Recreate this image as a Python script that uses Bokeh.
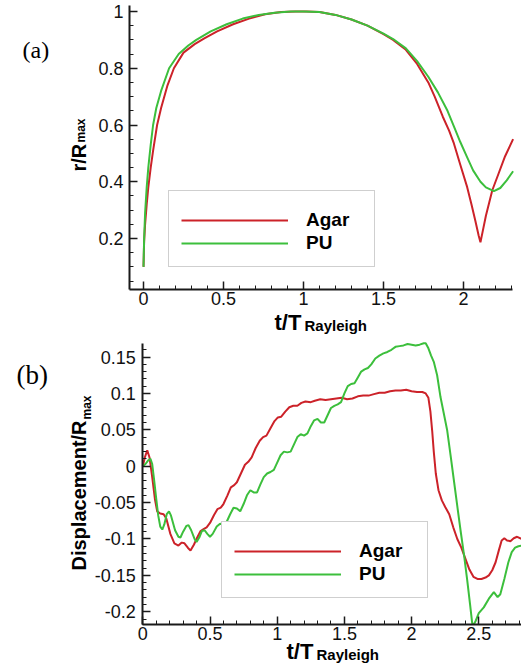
from bokeh.plotting import figure
from bokeh.models import Range1d, FixedTicker, Label, Legend, LegendItem
from bokeh.layouts import column
from bokeh.embed import file_html
from bokeh.resources import INLINE
import math

# ---------------- data: panel (a) r/Rmax vs t/T ----------------
a_t_agar = [0.0, 0.004, 0.01, 0.02, 0.03, 0.045, 0.06, 0.085, 0.11, 0.15, 0.19, 0.25, 0.32, 0.38,
            0.46, 0.56, 0.66, 0.76, 0.86, 0.95, 1.02, 1.1, 1.2, 1.3, 1.4, 1.5, 1.56, 1.64, 1.71,
            1.78, 1.82, 1.87, 1.91, 1.94, 1.98, 2.023, 2.05, 2.075, 2.095, 2.106, 2.12, 2.14,
            2.16, 2.18, 2.22, 2.26, 2.31]
a_r_agar = [0.10, 0.19, 0.25, 0.32, 0.38, 0.45, 0.51, 0.60, 0.66, 0.74, 0.80, 0.855, 0.885, 0.905,
            0.93, 0.955, 0.975, 0.99, 0.998, 1.0, 1.0, 0.998, 0.988, 0.972, 0.95, 0.92, 0.90, 0.865,
            0.815, 0.75, 0.70, 0.63, 0.58, 0.535, 0.46, 0.381, 0.32, 0.26, 0.21, 0.187, 0.225, 0.28,
            0.325, 0.37, 0.43, 0.49, 0.55]
a_t_pu = [0.0, 0.004, 0.01, 0.02, 0.03, 0.045, 0.06, 0.08, 0.11, 0.16, 0.22, 0.28, 0.33, 0.42, 0.52,
          0.62, 0.72, 0.82, 0.92, 1.0, 1.1, 1.2, 1.3, 1.4, 1.5, 1.56, 1.64, 1.71, 1.78, 1.84, 1.9,
          1.94, 1.98, 2.023, 2.06, 2.106, 2.14, 2.19, 2.23, 2.27, 2.31]
a_r_pu = [0.10, 0.20, 0.29, 0.38, 0.45, 0.53, 0.60, 0.66, 0.72, 0.80, 0.85, 0.88, 0.90, 0.93, 0.955,
          0.975, 0.988, 0.996, 1.0, 1.0, 0.998, 0.988, 0.972, 0.95, 0.922, 0.903, 0.87, 0.825, 0.77,
          0.715, 0.65, 0.595, 0.54, 0.486, 0.44, 0.40, 0.38, 0.367, 0.378, 0.405, 0.437]

# ---------------- data: panel (b) displacement vs t/T ----------------
b_t_agar = [0.0, 0.015, 0.033, 0.05, 0.07, 0.09, 0.107, 0.13, 0.155, 0.175, 0.205, 0.235, 0.265,
            0.29, 0.31, 0.335, 0.355, 0.38, 0.405, 0.43, 0.455, 0.475, 0.5, 0.53, 0.555, 0.58, 0.6,
            0.63, 0.655, 0.68, 0.7, 0.73, 0.76, 0.785, 0.81, 0.84, 0.87, 0.895, 0.92, 0.95, 0.98,
            1.005, 1.03, 1.06, 1.09, 1.12, 1.15, 1.18, 1.21, 1.25, 1.28, 1.32, 1.36, 1.4, 1.44, 1.48,
            1.52, 1.56, 1.6, 1.64, 1.68, 1.72, 1.76, 1.8, 1.84, 1.88, 1.92, 1.96, 2.0, 2.04, 2.08,
            2.105, 2.125, 2.14, 2.153, 2.165, 2.18, 2.2, 2.225, 2.25, 2.28, 2.31, 2.34, 2.37, 2.4,
            2.43, 2.46, 2.49, 2.52, 2.55, 2.575, 2.6, 2.625, 2.65, 2.67, 2.69, 2.71, 2.735, 2.76,
            2.785, 2.82]
b_d_agar = [0.0, 0.012, 0.022, 0.012, -0.015, -0.045, -0.062, -0.065, -0.066, -0.072, -0.093, -0.106,
            -0.109, -0.105, -0.106, -0.112, -0.116, -0.108, -0.098, -0.089, -0.086, -0.084, -0.078,
            -0.067, -0.059, -0.057, -0.052, -0.04, -0.029, -0.026, -0.022, -0.01, 0.002, 0.006, 0.012,
            0.025, 0.035, 0.04, 0.042, 0.052, 0.062, 0.067, 0.068, 0.075, 0.081, 0.083, 0.083, 0.087,
            0.089, 0.088, 0.09, 0.092, 0.091, 0.092, 0.093, 0.094, 0.092, 0.093, 0.096, 0.097, 0.097,
            0.099, 0.101, 0.101, 0.103, 0.104, 0.104, 0.105, 0.103, 0.102, 0.102, 0.1, 0.094, 0.075,
            0.049, 0.02, -0.01, -0.033, -0.047, -0.056, -0.066, -0.084, -0.1, -0.112, -0.127, -0.142,
            -0.152, -0.155, -0.155, -0.153, -0.15, -0.143, -0.132, -0.115, -0.102, -0.099, -0.102,
            -0.103, -0.099, -0.097, -0.1]
b_t_pu = [0.0, 0.02, 0.04, 0.057, 0.07, 0.085, 0.1, 0.115, 0.13, 0.145, 0.16, 0.178, 0.195, 0.21,
          0.24, 0.265, 0.28, 0.3, 0.325, 0.34, 0.36, 0.385, 0.4, 0.42, 0.44, 0.46, 0.48, 0.5, 0.52,
          0.55, 0.575, 0.6, 0.625, 0.65, 0.675, 0.7, 0.725, 0.75, 0.775, 0.8, 0.825, 0.85, 0.875,
          0.9, 0.925, 0.95, 0.975, 1.0, 1.025, 1.05, 1.075, 1.1, 1.125, 1.15, 1.175, 1.2, 1.225,
          1.25, 1.275, 1.3, 1.325, 1.35, 1.375, 1.4, 1.425, 1.45, 1.475, 1.5, 1.525, 1.55, 1.575,
          1.6, 1.625, 1.65, 1.675, 1.7, 1.73, 1.76, 1.79, 1.82, 1.85, 1.88, 1.91, 1.94, 1.97, 2.0,
          2.03, 2.06, 2.09, 2.105, 2.125, 2.145, 2.166, 2.19, 2.215, 2.24, 2.265, 2.29, 2.315, 2.34,
          2.364, 2.39, 2.414, 2.435, 2.451, 2.465, 2.478, 2.5, 2.537, 2.575, 2.612, 2.64, 2.66,
          2.69, 2.72, 2.745, 2.77, 2.795, 2.82]
b_d_pu = [0.0, 0.003, 0.008, 0.01, 0.003, -0.02, -0.045, -0.068, -0.083, -0.087, -0.08, -0.066,
          -0.062, -0.068, -0.088, -0.097, -0.098, -0.09, -0.082, -0.081, -0.088, -0.1, -0.104,
          -0.098, -0.089, -0.088, -0.093, -0.097, -0.093, -0.083, -0.079, -0.081, -0.076, -0.066,
          -0.057, -0.058, -0.062, -0.052, -0.04, -0.033, -0.036, -0.036, -0.025, -0.015, -0.01,
          -0.008, -0.005, 0.005, 0.015, 0.02, 0.019, 0.02, 0.03, 0.04, 0.044, 0.042, 0.045, 0.055,
          0.063, 0.065, 0.06, 0.06, 0.07, 0.08, 0.083, 0.085, 0.088, 0.1, 0.11, 0.113, 0.114, 0.122,
          0.13, 0.133, 0.135, 0.14, 0.148, 0.152, 0.155, 0.157, 0.16, 0.164, 0.165, 0.166, 0.168,
          0.167, 0.166, 0.167, 0.169, 0.169, 0.162, 0.152, 0.143, 0.125, 0.095, 0.072, 0.049, 0.015,
          -0.02, -0.055, -0.088, -0.122, -0.157, -0.19, -0.216, -0.217, -0.212, -0.202, -0.194,
          -0.182, -0.173, -0.18, -0.176, -0.155, -0.132, -0.118, -0.112, -0.11, -0.109]

series_names = ["Agar", "PU"]

a_xticks = [0, 0.5, 1, 1.5, 2]
a_xlabels = ["0", "0.5", "1", "1.5", "2"]
a_yticks = [0.2, 0.4, 0.6, 0.8, 1]
a_ylabels = ["0.2", "0.4", "0.6", "0.8", "1"]
b_xticks = [0, 0.5, 1, 1.5, 2, 2.5]
b_xlabels = ["0", "0.5", "1", "1.5", "2", "2.5"]
b_yticks = [-0.2, -0.15, -0.1, -0.05, 0, 0.05, 0.1, 0.15]
b_ylabels = ["-0.2", "-0.15", "-0.1", "-0.05", "0", "0.05", "0.1", "0.15"]

RED = "#cc2229"
GREEN = "#3cbf3c"
AXC = "#1a1a1a"
FONT = "Liberation Sans"

# ---------------- geometry: each figure's frame fills its canvas ----------------
W = 521
SPLIT = 335                 # page y where panel (b)'s canvas starts
# panel (a): 160 px per x unit (t=0 at x 143), 283.75 px per y unit (r=1 at y 11)
A_H = SPLIT
A_XS, A_YS = 160.0, 283.75
A_X_ZERO, A_Y_ONE = 143.0, 11.0
A_XR = (-A_X_ZERO / A_XS, (W - A_X_ZERO) / A_XS)
A_YR = (1.0 - (A_H - A_Y_ONE) / A_YS, 1.0 + A_Y_ONE / A_YS)
A_XB = (-0.0875, 2.306)     # x-axis extent
A_YB = (0.0203, 1.021)      # y-axis extent

# panel (b): 134.4 px per x unit (t=0 at x 142.3), 727.7 px per y unit (0 at y 465.7)
B_H = 663 - SPLIT
B_XS, B_YS = 134.4, 727.7
B_X_ZERO, B_Y_ZERO = 142.3, 465.7
B_XR = (-B_X_ZERO / B_XS, (W - B_X_ZERO) / B_XS)
B_YR = ((B_Y_ZERO - 663) / B_YS, (B_Y_ZERO - SPLIT) / B_YS)
B_XB = (0.0, B_XR[1])
B_YB = (-0.2173, 0.1683)


def a_px(x):
    return (x - A_X_ZERO) / A_XS


def a_py(y):
    return 1.0 - (y - A_Y_ONE) / A_YS


def b_px(x):
    return (x - B_X_ZERO) / B_XS


def b_py(y):
    return (B_Y_ZERO - y) / B_YS


def style(p, xt, xl, xminor, yt, yl, yminor, xb, yb):
    p.xaxis.ticker = FixedTicker(ticks=xt, minor_ticks=xminor)
    p.yaxis.ticker = FixedTicker(ticks=yt, minor_ticks=yminor)
    p.xaxis.major_label_overrides = {k: v for k, v in zip(xt, xl)}
    p.yaxis.major_label_overrides = {k: v for k, v in zip(yt, yl)}
    p.xaxis.fixed_location = yb[0]
    p.yaxis.fixed_location = xb[0]
    p.xaxis.bounds = xb
    p.yaxis.bounds = yb
    for ax in (p.xaxis, p.yaxis):
        ax.axis_line_color = AXC
        ax.axis_line_width = 2
        ax.major_tick_line_color = AXC
        ax.major_tick_line_width = 1.5
        ax.minor_tick_line_color = AXC
        ax.minor_tick_line_width = 1
        ax.major_tick_in = 8
        ax.major_tick_out = 0
        ax.minor_tick_in = 4
        ax.minor_tick_out = 0
        ax.major_label_text_font = FONT
        ax.major_label_text_font_size = "18px"
        ax.major_label_text_color = "#111111"
    p.yaxis.major_label_standoff = 6
    p.xaxis.major_label_standoff = 3
    p.grid.visible = False
    p.outline_line_color = None
    p.background_fill_color = "white"
    p.border_fill_color = "white"


def legend_for(p, r1, r2, loc):
    leg = Legend(items=[LegendItem(label=series_names[0], renderers=[r1]),
                        LegendItem(label=series_names[1], renderers=[r2])],
                 location=loc, margin=0, padding=12, spacing=1,
                 glyph_width=107, glyph_height=20, label_height=22,
                 label_standoff=18, label_width=56,
                 title=" ", title_text_font_size="1px", title_standoff=5,
                 label_text_font=FONT, label_text_font_style="bold",
                 label_text_font_size="19px", label_text_color="black",
                 border_line_color="#a0a0a0", border_line_width=1.5,
                 background_fill_color="white", background_fill_alpha=1.0)
    p.add_layout(leg, "center")


def lab(p, x, y, text, size, bold=True, font=FONT, angle=0.0):
    p.add_layout(Label(x=x, y=y, text=text, text_font=font, text_font_size=size,
                       text_font_style="bold" if bold else "normal", text_color="black",
                       text_baseline="alphabetic", text_align="left", angle=angle))


def make_fig(w, h, xr, yr):
    return figure(width=w, height=h, output_backend="svg", toolbar_location=None,
                  x_range=Range1d(*xr), y_range=Range1d(*yr),
                  min_border_left=0, min_border_right=0, min_border_top=0, min_border_bottom=0)


# ---------------- panel (a) ----------------
pa = make_fig(W, A_H, A_XR, A_YR)
style(pa, a_xticks, a_xlabels, [round(0.1 * i, 2) for i in range(0, 24)],
      a_yticks, a_ylabels, [round(0.05 * i, 2) for i in range(1, 21)], A_XB, A_YB)
ra1 = pa.line(a_t_agar, a_r_agar, line_color=RED, line_width=2)
ra2 = pa.line(a_t_pu, a_r_pu, line_color=GREEN, line_width=2)
legend_for(pa, ra1, ra2, (168, A_H - 267))
lab(pa, a_px(22), a_py(49), "(a)", "24px", bold=False, font="Liberation Serif")
lab(pa, a_px(78), a_py(171), "r/R", "20px", angle=math.pi / 2)
lab(pa, a_px(80), a_py(142), "max", "12px", angle=math.pi / 2)
lab(pa, a_px(274), a_py(322), "t/T", "22px")
lab(pa, a_px(304), a_py(325), "Rayleigh", "15px")

# ---------------- panel (b) ----------------
pb = make_fig(W, B_H, B_XR, B_YR)
style(pb, b_xticks, b_xlabels, [round(0.1 * i, 2) for i in range(0, 29)],
      b_yticks, b_ylabels, [round(0.01 * i, 2) for i in range(-21, 17)], B_XB, B_YB)
pb.yaxis.major_label_standoff = 7
rb1 = pb.line(b_t_agar, b_d_agar, line_color=RED, line_width=2)
rb2 = pb.line(b_t_pu, b_d_pu, line_color=GREEN, line_width=2)
legend_for(pb, rb1, rb2, (221, 663 - 598))
lab(pb, b_px(16), b_py(374), "(b)", "27px", bold=False, font="Liberation Serif")
lab(pb, b_px(78), b_py(570), "Displacement/R", "20px", angle=math.pi / 2)
lab(pb, b_px(86), b_py(419), "max", "12px", angle=math.pi / 2)
lab(pb, b_px(286), b_py(651), "t/T", "22px")
lab(pb, b_px(316), b_py(654), "Rayleigh", "15px")

layout = column(pa, pb)
open("out.html", "w").write(file_html(layout, INLINE))
